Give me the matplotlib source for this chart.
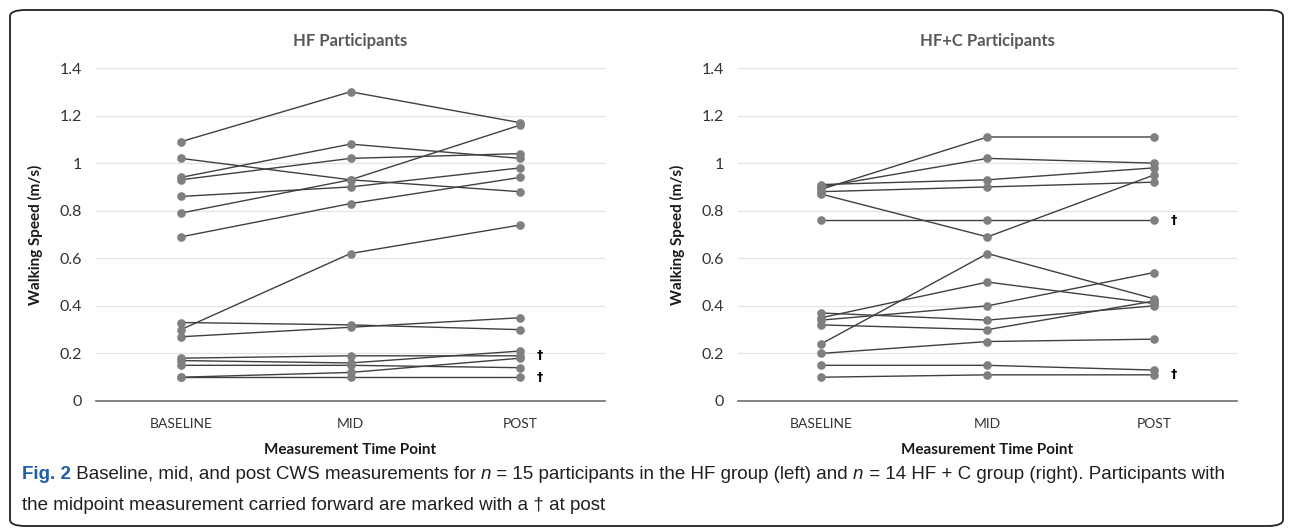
import matplotlib
matplotlib.use("Agg")
import matplotlib.pyplot as plt
from matplotlib.patches import FancyBboxPatch
from matplotlib.text import Annotation

# category labels
timepoints = ["BASELINE", "MID", "POST"]

# HF group, one row per participant: baseline, mid, post (m/s)
hf_baseline = [1.09, 1.02, 0.94, 0.93, 0.86, 0.79, 0.69, 0.30, 0.33, 0.27, 0.18, 0.17, 0.15, 0.10, 0.10]
hf_mid      = [1.30, 0.93, 1.08, 1.02, 0.90, 0.93, 0.83, 0.62, 0.32, 0.31, 0.19, 0.16, 0.15, 0.12, 0.10]
hf_post     = [1.17, 0.88, 1.02, 1.04, 0.98, 1.16, 0.94, 0.74, 0.30, 0.35, 0.19, 0.21, 0.14, 0.18, 0.10]
hf_carried  = [0, 0, 0, 0, 0, 0, 0, 0, 0, 0, 1, 0, 0, 0, 1]

# HF+C group
hfc_baseline = [0.89, 0.90, 0.91, 0.88, 0.87, 0.76, 0.24, 0.35, 0.34, 0.37, 0.32, 0.20, 0.15, 0.10]
hfc_mid      = [1.11, 1.02, 0.93, 0.90, 0.69, 0.76, 0.62, 0.50, 0.40, 0.34, 0.30, 0.25, 0.15, 0.11]
hfc_post     = [1.11, 1.00, 0.98, 0.92, 0.95, 0.76, 0.43, 0.41, 0.54, 0.40, 0.42, 0.26, 0.13, 0.11]
hfc_carried  = [0, 0, 0, 0, 0, 1, 0, 0, 0, 0, 0, 0, 0, 1]

yticks = [0, 0.2, 0.4, 0.6, 0.8, 1, 1.2, 1.4]
ytick_labels = ["0", "0.2", "0.4", "0.6", "0.8", "1", "1.2", "1.4"]

W, H = 1290, 529
fig = plt.figure(figsize=(W / 100, H / 100), dpi=100)
chart_font = ["Lato", "DejaVu Sans"]
cap_font = ["Liberation Sans", "DejaVu Sans"]
cap_size = 13.5

def px_axes(x0, x1, ytop, ybot):
    return fig.add_axes([x0 / W, 1 - ybot / H, (x1 - x0) / W, (ybot - ytop) / H])

def draw_panel(ax, title, base, mid, post, carried):
    for b, m, p, c in zip(base, mid, post, carried):
        ax.plot([0, 1, 2], [b, m, p], color="#404040", lw=1.0, zorder=2)
        ax.plot([0, 1, 2], [b, m, p], ls="none", marker="o", ms=5.2,
                color="#7f7f7f", zorder=3)
        if c:  # midpoint carried forward
            ax.annotate("\u2020", xy=(2, p), xytext=(14, 0), textcoords="offset points",
                        ha="center", va="center", fontsize=9, fontweight="bold",
                        color="black", family="DejaVu Sans")
    ax.set_xlim(-0.5, 2.5)
    ax.set_ylim(0, 1.4)
    ax.set_yticks(yticks)
    ax.set_yticklabels(ytick_labels, family=chart_font, fontsize=11.5, color="#333333")
    ax.set_xticks([0, 1, 2])
    ax.set_xticklabels(timepoints, family=chart_font, fontsize=10, color="#333333")
    ax.tick_params(axis="x", length=0, pad=12)
    ax.tick_params(axis="y", length=0, pad=10)
    ax.grid(axis="y", color="#e4e4e4", lw=0.9, zorder=0)
    for s in ["top", "right", "left"]:
        ax.spines[s].set_visible(False)
    ax.spines["bottom"].set_color("#6e6e6e")
    ax.spines["bottom"].set_linewidth(1.2)
    ax.set_title(title, family=chart_font, fontsize=12, fontweight="bold",
                 color="#595959", pad=16)
    ax.set_xlabel("Measurement Time Point", family=chart_font, fontsize=11,
                  fontweight="bold", color="#1a1a1a", labelpad=9.5)
    ax.set_ylabel("Walking Speed (m/s)", family=chart_font, fontsize=11,
                  fontweight="bold", color="#1a1a1a", labelpad=12)

ax1 = px_axes(96, 605, 68, 401)
draw_panel(ax1, "HF Participants", hf_baseline, hf_mid, hf_post, hf_carried)
ax2 = px_axes(738, 1237, 68, 401)
draw_panel(ax2, "HF+C Participants", hfc_baseline, hfc_mid, hfc_post, hfc_carried)

# frame round the whole figure
frame = FancyBboxPatch((10 / W, 3 / H), 1273 / W, 516 / H,
                       boxstyle="round,pad=0,rounding_size=0.012",
                       transform=fig.transFigure, fill=False, ec="#222222", lw=1.3)
fig.patches.append(frame)

# caption: pieces chained one after another on the same line
line1 = [("Fig. 2", dict(fontweight="bold", color="#1f5fa6")),
         (" Baseline, mid, and post CWS measurements for ", {}),
         ("n", dict(style="italic")),
         (" = 15 participants in the HF group (left) and ", {}),
         ("n", dict(style="italic")),
         (" = 14 HF + C group (right). Participants with", {})]

def cap_style(kw):
    st = dict(family=cap_font, fontsize=cap_size, color="#231f20", va="bottom", ha="left")
    st.update(kw)
    return st

prev = fig.text(22 / W, 1 - 483 / H, line1[0][0], **cap_style(line1[0][1]))
for txt, kw in line1[1:]:
    prev = fig.add_artist(Annotation(txt, xy=(1, 0), xycoords=prev, xytext=(0, 0),
                                     textcoords="offset points", annotation_clip=False,
                                     **cap_style(kw)))

fig.text(22 / W, 1 - 514 / H,
         "the midpoint measurement carried forward are marked with a \u2020 at post",
         **cap_style({}))

fig.savefig("out.png", dpi=100)
